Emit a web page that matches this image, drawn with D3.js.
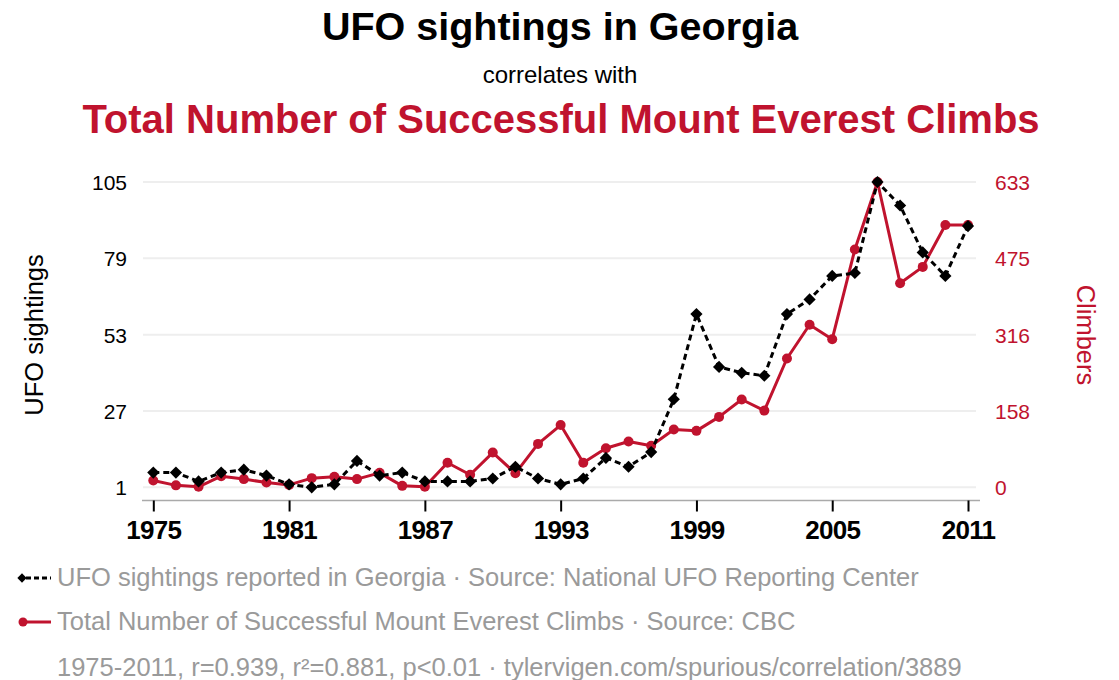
<!DOCTYPE html>
<html><head><meta charset="utf-8">
<script src="https://cdn.jsdelivr.net/npm/d3@7"></script>
<style>
html,body{margin:0;padding:0;background:#fff;}
svg{display:block;font-family:"Liberation Sans",Arial,Helvetica,sans-serif;}
</style></head>
<body><svg id="c" width="1119" height="680"></svg>
<script>
const years = d3.range(1975, 2012);
const ufo = [6,6,3,6,7,5,2,1,2,10,5,6,3,3,3,4,8,4,2,4,11,8,13,31,60,42,40,39,60,65,73,74,105,97,81,73,90];
const climbers = [14,4,1,23,17,10,5,19,22,17,30,3,1,51,26,72,29,90,129,51,81,95,86,120,117,146,182,159,267,337,307,493,633,423,457,544,544];
const leftTicks = [1,27,53,79,105];
const rightTicks = [0,158,316,475,633];
const xTicks = [1975,1981,1987,1993,1999,2005,2011];
const RED = "#c0132e";

const svg = d3.select("#c");
const x = d3.scaleLinear().domain([1975,2011]).range([153.3,968]);
const yL = d3.scaleLinear().domain([1,105]).range([487.3,182]);
const yR = d3.scaleLinear().domain([0,633]).range([487.3,182]);

// titles
svg.append("text").attr("x",560).attr("y",40).attr("text-anchor","middle")
  .attr("font-size",39.5).attr("font-weight","bold").attr("fill","#000").text("UFO sightings in Georgia");
svg.append("text").attr("x",560).attr("y",83).attr("text-anchor","middle")
  .attr("font-size",24).attr("fill","#000").text("correlates with");
svg.append("text").attr("x",561).attr("y",133).attr("text-anchor","middle")
  .attr("font-size",40).attr("font-weight","bold").attr("fill",RED).text("Total Number of Successful Mount Everest Climbs");

// gridlines
svg.append("g").selectAll("line").data(leftTicks).join("line")
  .attr("x1",143).attr("x2",976).attr("y1",d=>yL(d)).attr("y2",d=>yL(d))
  .attr("stroke","#eeeeee").attr("stroke-width",2);

// left axis labels
const gl = svg.append("g").attr("transform","translate(127,0)")
  .call(d3.axisLeft(yL).tickValues(leftTicks).tickSize(0).tickPadding(0).tickFormat(d3.format("d")));
gl.select(".domain").remove();
gl.selectAll("text").attr("font-size",21).attr("fill","#000").attr("font-family","Liberation Sans, Arial, sans-serif").attr("dy","0.35em");

const gr = svg.append("g").attr("transform","translate(995,0)")
  .call(d3.axisRight(yR).tickValues(rightTicks).tickSize(0).tickPadding(0).tickFormat(d3.format("d")));
gr.select(".domain").remove();
gr.selectAll("text").attr("font-size",21).attr("fill",RED).attr("font-family","Liberation Sans, Arial, sans-serif").attr("dy","0.35em");

// x axis
const gx = svg.append("g").attr("transform","translate(0,500.5)")
  .call(d3.axisBottom(x).tickValues(xTicks).tickSize(11).tickPadding(9).tickFormat(d3.format("d")).tickSizeOuter(0));
gx.select(".domain").attr("d","M142,0H980").attr("stroke","#aaaaaa").attr("stroke-width",1.5);
gx.selectAll(".tick line").attr("stroke","#000").attr("stroke-width",2);
gx.selectAll("text").attr("font-size",26).attr("font-weight","bold").attr("fill","#000")
  .attr("font-family","Liberation Sans, Arial, sans-serif").attr("letter-spacing","-0.7");

// axis titles
svg.append("text").attr("transform","translate(43,335) rotate(-90)").attr("text-anchor","middle")
  .attr("font-size",25.5).attr("fill","#000").text("UFO sightings");
svg.append("text").attr("transform","translate(1077,335) rotate(90)").attr("text-anchor","middle")
  .attr("font-size",25.5).attr("fill",RED).text("Climbers");

// red series
const lineR = d3.line().x((d,i)=>x(years[i])).y(d=>yR(d));
svg.append("path").datum(climbers).attr("d",lineR).attr("fill","none").attr("stroke",RED).attr("stroke-width",3).attr("stroke-linejoin","round");
svg.append("g").selectAll("circle").data(climbers).join("circle")
  .attr("cx",(d,i)=>x(years[i])).attr("cy",d=>yR(d)).attr("r",5).attr("fill",RED);

// black series
const lineL = d3.line().x((d,i)=>x(years[i])).y(d=>yL(d));
svg.append("path").datum(ufo).attr("d",lineL).attr("fill","none").attr("stroke","#000").attr("stroke-width",3).attr("stroke-dasharray","6,4");
const dia = d3.symbol().type(d3.symbolDiamond2).size(95);
svg.append("g").selectAll("path").data(ufo).join("path")
  .attr("transform",(d,i)=>`translate(${x(years[i])},${yL(d)})`).attr("d",dia).attr("fill","#000");

// legend
const lg = svg.append("g");
lg.append("line").attr("x1",26).attr("x2",51).attr("y1",578).attr("y2",578).attr("stroke","#000").attr("stroke-width",3).attr("stroke-dasharray","5,3");
lg.append("path").attr("transform","translate(22,578)").attr("d",d3.symbol().type(d3.symbolDiamond2).size(55)).attr("fill","#000");
lg.append("text").attr("x",57).attr("y",586).attr("font-size",25.5).attr("fill","#9a9a9a").text("UFO sightings reported in Georgia · Source: National UFO Reporting Center");
lg.append("line").attr("x1",22).attr("x2",51).attr("y1",622).attr("y2",622).attr("stroke",RED).attr("stroke-width",3);
lg.append("circle").attr("cx",23).attr("cy",622).attr("r",4.5).attr("fill",RED);
lg.append("text").attr("x",57).attr("y",630).attr("font-size",25.5).attr("fill","#9a9a9a").text("Total Number of Successful Mount Everest Climbs · Source: CBC");
lg.append("text").attr("x",57).attr("y",676).attr("font-size",25.5).attr("fill","#9a9a9a").text("1975-2011, r=0.939, r²=0.881, p<0.01 · tylervigen.com/spurious/correlation/3889");
</script></body></html>
